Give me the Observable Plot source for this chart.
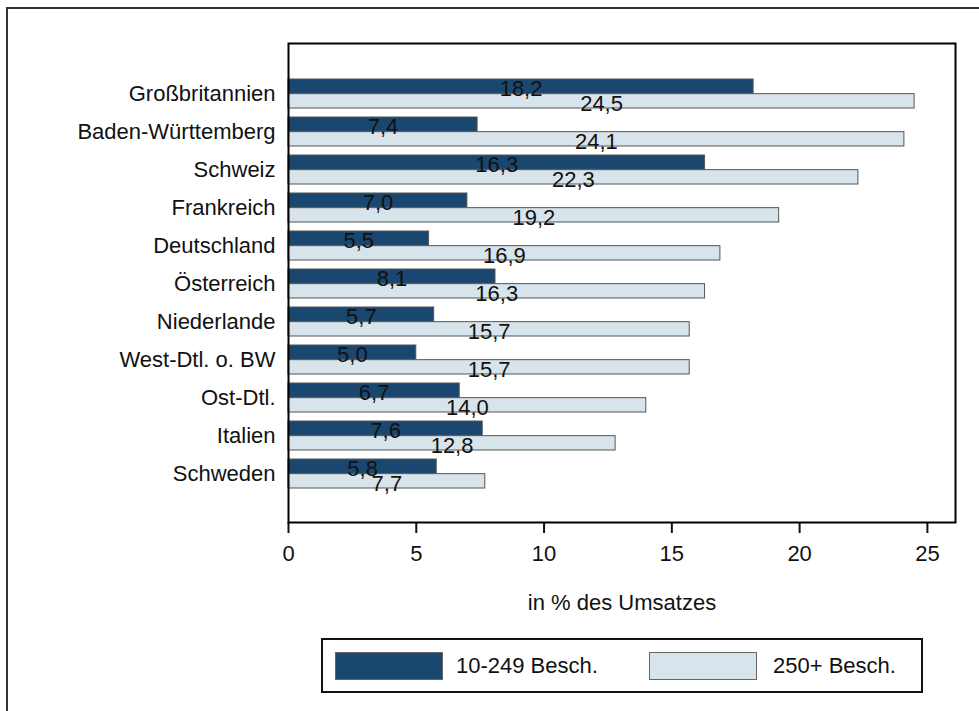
<!DOCTYPE html>
<html>
<head>
<meta charset="utf-8">
<script src="https://cdn.jsdelivr.net/npm/d3@7"></script>
<script src="https://cdn.jsdelivr.net/npm/@observablehq/plot@0.6"></script>
<style>
  html, body { margin: 0; padding: 0; background: #fff; }
  #page { position: relative; width: 979px; height: 711px; overflow: hidden; background: #fff;
          font-family: "Liberation Sans", Arial, sans-serif; }
  #outer { position: absolute; left: 6px; top: 7px; right: -10px; bottom: -10px;
           border-left: 2px solid #333; border-top: 2px solid #333; }
  #chart { position: absolute; left: 0; top: 0; }
  #legend { position: absolute; left: 321px; top: 638px; width: 598px; height: 51px;
            border: 2px solid #111; background: #fff; }
  .sw { position: absolute; top: 12px; width: 108px; height: 28px; box-sizing: border-box; border: 1px solid #666; }
  .lt { position: absolute; top: 12px; height: 28px; line-height: 28px; font-size: 22px; color: #111; }
</style>
</head>
<body>
<div id="page">
  <div id="outer"></div>
  <div id="chart"></div>
  <div id="legend"></div>
</div>
<script>
const categories = ["Großbritannien", "Baden-Württemberg", "Schweiz", "Frankreich", "Deutschland", "Österreich", "Niederlande", "West-Dtl. o. BW", "Ost-Dtl.", "Italien", "Schweden"];
const small = [18.2, 7.4, 16.3, 7.0, 5.5, 8.1, 5.7, 5.0, 6.7, 7.6, 5.8];
const large = [24.5, 24.1, 22.3, 19.2, 16.9, 16.3, 15.7, 15.7, 14.0, 12.8, 7.7];
const seriesNames = ["10-249 Besch.", "250+ Besch."];
const seriesColors = ["#1a476f", "#d8e4eb"];
const xTicks = [0, 5, 10, 15, 20, 25];
const xTitle = "in % des Umsatzes";

const rows = categories.map((c, i) => ({cat: c, small: small[i], large: large[i]}));
const fmt = v => d3.format(".1f")(v).replace(".", ",");

// layout
const W = 979, H = 620, mT = 43, mB = 98, mL = 288, mR = 24;
const insT = 27.3, insB = 26.3, padI = 0.242, padO = 0.121;
const step = ((H - mB) - mT - insT - insB) / (categories.length - padI + 2 * padO);
const bw = step * (1 - padI);

const chart = Plot.plot({
  width: W, height: H,
  marginTop: mT, marginBottom: mB, marginLeft: mL, marginRight: mR,
  style: {fontFamily: "'Liberation Sans', Arial, sans-serif", fontSize: "22px", background: "transparent", color: "#111"},
  x: {domain: [0, 26.1], ticks: xTicks, tickSize: 11, tickPadding: 12, tickFormat: d => String(d), label: null},
  y: {domain: categories, paddingInner: padI, paddingOuter: padO, insetTop: insT, insetBottom: insB,
      tickSize: 0, tickPadding: 13, label: null},
  marks: [
    Plot.barX(rows, {x: "small", y: "cat", insetBottom: bw / 2, fill: seriesColors[0], stroke: "#555", strokeWidth: 1}),
    Plot.barX(rows, {x: "large", y: "cat", insetTop: bw / 2, fill: seriesColors[1], stroke: "#555", strokeWidth: 1}),
    Plot.text(rows, {x: d => d.small / 2, y: "cat", text: d => fmt(d.small), dy: -bw / 4 + 2.4, fill: "#111", fontSize: 22}),
    Plot.text(rows, {x: d => d.large / 2, y: "cat", text: d => fmt(d.large), dy: bw / 4 + 2.4, fill: "#111", fontSize: 22}),
    Plot.text([xTitle], {frameAnchor: "bottom", text: d => d, dy: 87, fill: "#111", fontSize: 22}),
    Plot.frame({stroke: "#000", strokeWidth: 2})
  ]
});
chart.querySelectorAll('[aria-label="x-axis tick"] path, [aria-label="x-axis tick"] line').forEach(e => e.setAttribute("stroke-width", 2));
document.getElementById("chart").appendChild(chart);

// legend (HTML, below the SVG plot area)
const legend = document.getElementById("legend");
const swX = [12, 326], txX = [133, 450];
seriesNames.forEach((name, i) => {
  const sw = document.createElement("div");
  sw.className = "sw";
  sw.style.left = swX[i] + "px";
  sw.style.background = seriesColors[i];
  legend.appendChild(sw);
  const t = document.createElement("div");
  t.className = "lt";
  t.style.left = txX[i] + "px";
  t.textContent = name;
  legend.appendChild(t);
});
</script>
</body>
</html>
